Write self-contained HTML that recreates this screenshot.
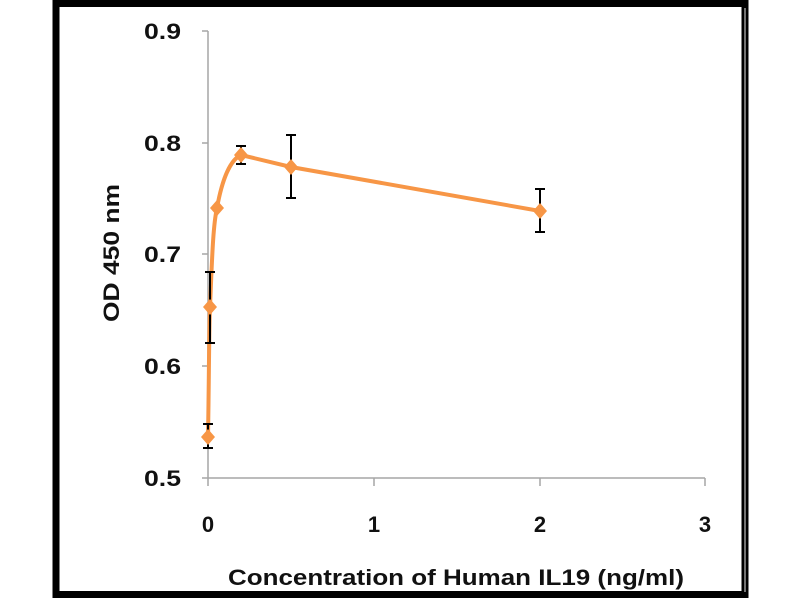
<!DOCTYPE html>
<html><head><style>body{margin:0;background:#fff}</style></head><body>
<svg width="800" height="600" xmlns="http://www.w3.org/2000/svg" font-family="Liberation Sans, sans-serif" font-weight="bold">
<rect x="0" y="0" width="800" height="600" fill="#fff"/>
<rect x="56" y="3.5" width="689" height="591" fill="none" stroke="#000" stroke-width="7"/>
<line x1="745" y1="8" x2="745" y2="592" stroke="#999" stroke-width="1.5"/>
<g stroke="#a6a6a6" stroke-width="1.5">
<line x1="208" y1="31" x2="208" y2="478"/>
<line x1="202" y1="478" x2="705" y2="478"/>
<line x1="202" y1="31" x2="208" y2="31"/><line x1="202" y1="143" x2="208" y2="143"/><line x1="202" y1="254" x2="208" y2="254"/><line x1="202" y1="366" x2="208" y2="366"/>
<line x1="208" y1="478" x2="208" y2="486"/><line x1="374" y1="478" x2="374" y2="486"/><line x1="540" y1="478" x2="540" y2="486"/><line x1="705" y1="478" x2="705" y2="486"/>
</g>
<g font-size="22" fill="#111" text-anchor="end">
<text x="181" y="39" textLength="37" lengthAdjust="spacingAndGlyphs">0.9</text><text x="181" y="151" textLength="37" lengthAdjust="spacingAndGlyphs">0.8</text><text x="181" y="262" textLength="37" lengthAdjust="spacingAndGlyphs">0.7</text><text x="181" y="374" textLength="37" lengthAdjust="spacingAndGlyphs">0.6</text><text x="181" y="486" textLength="37" lengthAdjust="spacingAndGlyphs">0.5</text>
</g>
<g font-size="22" fill="#111" text-anchor="middle">
<text x="208" y="532">0</text><text x="374" y="532">1</text><text x="540" y="532">2</text><text x="705" y="532">3</text>
<text x="456" y="585" textLength="456" lengthAdjust="spacingAndGlyphs">Concentration of Human IL19 (ng/ml)</text>
<text transform="translate(119,253) rotate(-90)" textLength="138" lengthAdjust="spacingAndGlyphs">OD 450 nm</text>
</g>
<path d="M208,437 C209,380 209,330 210,307 C212,260 213,225 217,208 C222,180 230,160 241,155 L291,167 L540,211" fill="none" stroke="#f79646" stroke-width="4"/>
<g stroke="#000" stroke-width="2">
<line x1="208" y1="424" x2="208" y2="448"/><line x1="203" y1="424" x2="213" y2="424"/><line x1="203" y1="448" x2="213" y2="448"/>
<line x1="210" y1="272" x2="210" y2="343"/><line x1="205" y1="272" x2="215" y2="272"/><line x1="205" y1="343" x2="215" y2="343"/>
<line x1="241" y1="146" x2="241" y2="164"/><line x1="236" y1="146" x2="246" y2="146"/><line x1="236" y1="164" x2="246" y2="164"/>
<line x1="291" y1="135" x2="291" y2="198"/><line x1="286" y1="135" x2="296" y2="135"/><line x1="286" y1="198" x2="296" y2="198"/>
<line x1="540" y1="189" x2="540" y2="232"/><line x1="535" y1="189" x2="545" y2="189"/><line x1="535" y1="232" x2="545" y2="232"/>
</g>
<g fill="#f79646">
<path d="M208,429 l7,8 l-7,8 l-7,-8z"/>
<path d="M210,299 l7,8 l-7,8 l-7,-8z"/>
<path d="M217,200 l7,8 l-7,8 l-7,-8z"/>
<path d="M241,147 l7,8 l-7,8 l-7,-8z"/>
<path d="M291,159 l7,8 l-7,8 l-7,-8z"/>
<path d="M540,203 l7,8 l-7,8 l-7,-8z"/>
</g>
</svg>
</body></html>
